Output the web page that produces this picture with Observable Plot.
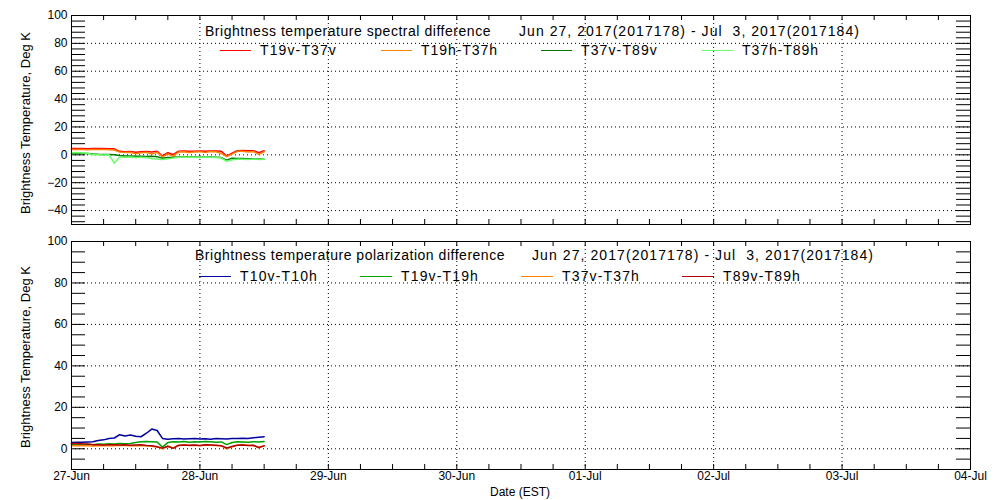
<!DOCTYPE html>
<html><head><meta charset="utf-8">
<script src="https://cdn.jsdelivr.net/npm/d3@7"></script>
<script src="https://cdn.jsdelivr.net/npm/@observablehq/plot@0.6"></script>
<style>
body{margin:0;background:#fff;}
#wrap{position:relative;width:1000px;height:500px;overflow:hidden;font-family:"Liberation Sans",Arial,sans-serif;color:#000;}
.panel{position:absolute;left:0;}
.txt{position:absolute;white-space:pre;line-height:16px;font-size:14px;}
.sw{position:absolute;height:0;border-top:1px solid;}
.ylab{position:absolute;white-space:pre;font-size:13px;line-height:16px;transform:translate(-50%,-50%) rotate(-90deg);}
</style></head>
<body><div id="wrap"></div>
<script>
// ---------- data ----------
const hourOffsets = [0,1,2,3,4,5,6,7,8,9,10,11,12,13,14,15,16,17,18,19,20,21,22,23,24,25,26,27,28,29,30,31,32,33,34,35,36];
const dayLabels = ["27-Jun","28-Jun","29-Jun","30-Jun","01-Jul","02-Jul","03-Jul","04-Jul"];

const spectralNames = ["T19v-T37v","T19h-T37h","T37v-T89v","T37h-T89h"];
const spectralColors = ["#ff0000","#ff7f00","#007a00","#66ff66"];
const T19v_T37v = [4.5,4.6,4.5,4.4,4.5,4.6,4.5,4.4,4.3,2.5,2.3,2.4,1.8,2.2,2.4,2.1,2.5,-0.8,1.5,0.2,2.6,2.7,2.5,2.6,2.7,2.6,2.8,2.7,2.6,-0.9,1.2,3.0,3.1,2.9,3.0,1.5,3.0];
const T19h_T37h = [3.8,3.9,3.8,3.7,3.8,3.9,3.8,3.7,3.5,2.0,1.6,1.8,0.8,1.5,1.9,0.5,1.8,-1.5,0.6,-1.0,2.0,2.2,1.6,2.1,2.3,1.7,2.4,2.2,1.0,-1.3,0.5,2.5,2.6,2.0,2.4,0.3,2.2];
const T37v_T89v = [1.0,1.1,0.9,1.0,0.6,0.4,0.3,0.2,0.1,-0.4,-0.8,-0.9,-1.0,-1.1,-1.2,-1.0,-1.3,-2.4,-2.0,-1.8,-1.5,-1.4,-1.5,-1.6,-1.7,-1.5,-1.6,-1.8,-2.0,-3.8,-2.5,-2.6,-2.7,-2.8,-2.9,-3.0,-3.1];
const T37h_T89h = [1.5,1.6,1.4,1.2,0.0,0.1,-0.1,0.0,-6.0,-1.5,-1.8,-1.6,-1.9,-1.7,-2.0,-2.8,-3.0,-3.4,-2.9,-2.2,-1.7,-1.6,-1.8,-1.7,-1.9,-1.6,-1.8,-2.0,-2.3,-4.6,-3.5,-3.2,-3.1,-3.3,-3.0,-3.4,-3.2];

const polarNames = ["T10v-T10h","T19v-T19h","T37v-T37h","T89v-T89h"];
const polarColors = ["#0000a0","#00a000","#ff8000","#b00000"];
const T10v_T10h = [3.0,3.2,3.1,3.3,3.4,4.0,4.3,5.0,5.2,6.8,6.2,6.6,6.0,5.8,7.5,9.5,8.8,5.0,4.6,4.8,4.9,4.7,4.8,4.9,4.7,4.8,4.6,4.9,4.8,4.7,5.0,4.9,5.1,5.0,5.3,5.6,5.8];
const T19v_T19h = [2.2,2.3,2.1,2.2,2.0,2.3,2.2,2.4,2.3,2.5,2.4,2.6,3.0,3.4,3.5,3.4,3.3,0.8,3.0,3.4,3.3,3.5,3.2,3.4,3.3,3.5,3.4,3.2,3.3,2.0,3.0,3.4,3.3,3.2,3.4,3.3,3.5];
const T37v_T37h = [1.5,1.6,1.4,1.5,1.3,1.5,1.6,1.4,1.5,1.7,1.6,1.4,1.5,1.6,1.4,1.2,0.8,0.0,1.2,0.4,1.7,1.8,1.6,1.7,1.5,1.8,1.7,1.6,1.4,0.0,1.0,1.8,1.9,1.7,1.6,0.5,1.5];
const T89v_T89h = [2.5,2.6,2.4,2.3,2.0,1.9,1.8,2.0,1.9,1.8,1.9,1.7,1.8,1.9,1.6,1.5,1.0,0.3,1.2,0.2,1.6,1.8,1.7,1.8,1.6,1.9,1.8,1.7,1.5,0.4,1.1,1.7,1.8,1.6,1.7,0.6,1.4];

const spectralSeries = [T19v_T37v, T19h_T37h, T37v_T89v, T37h_T89h];
const polarSeries = [T10v_T10h, T19v_T19h, T37v_T37h, T89v_T89h];

// ---------- layout ----------
const W = 1000, ML = 71, MR = 30;
const t0 = new Date(Date.UTC(2017,5,27));
const t1 = new Date(Date.UTC(2017,6,4));
const days = d3.utcDay.range(t0, d3.utcDay.offset(t1,1));
const sixHours = d3.utcHour.every(6).range(t0, d3.utcHour.offset(t1,1));
const toRows = vals => vals.map((v,i) => ({t: new Date(t0.getTime() + hourOffsets[i]*3600e3), v}));
const font = '"Liberation Sans", Arial, sans-serif';

function panel({height, mt, mb, yDomain, yMinorStep, series, colors, showX}) {
  const pw = W - ML - MR, ph = height - mt - mb;
  const majors = d3.range(Math.ceil(yDomain[0]/20)*20, yDomain[1]+1, 20);
  const minors = d3.range(Math.ceil(yDomain[0]/yMinorStep)*yMinorStep, yDomain[1]+1, yMinorStep);
  const grid = majors.filter(d => d > yDomain[0] && d < yDomain[1]);
  const marks = [
    Plot.ruleY(grid, {stroke:"#000", strokeDasharray:"1,3"}),
    Plot.ruleX(days.slice(1,-1), {stroke:"#000", strokeDasharray:"1,3"}),
    Plot.ruleY(minors, {stroke:"#000", insetRight: pw-14}),
    Plot.ruleY(minors, {stroke:"#000", insetLeft: pw-14}),
    Plot.ruleX(sixHours, {stroke:"#000", insetTop: ph-5}),
    Plot.ruleX(sixHours, {stroke:"#000", insetBottom: ph-5}),
    ...series.map((s,i) => Plot.lineY(toRows(s), {x:"t", y:"v", stroke: colors[i], strokeWidth:1.5})),
    Plot.frame({stroke:"#000"}),
    Plot.axisY(majors, {tickSize:0, tickPadding:4, fontSize:12, label:null})
  ];
  if (showX) marks.push(Plot.axisX(days, {tickSize:0, tickPadding:2, fontSize:12, label:null, tickFormat:(d,i)=>dayLabels[i]}));
  return Plot.plot({
    width: W, height, marginTop: mt, marginBottom: mb, marginLeft: ML, marginRight: MR,
    style: {fontFamily: font, color:"#000", background:"#fff"},
    x: {type:"utc", domain:[t0,t1], axis: showX ? undefined : null},
    y: {domain: yDomain},
    marks
  });
}

const wrap = document.getElementById("wrap");
function place(el, top){ const d=document.createElement("div"); d.className="panel"; d.style.top=top+"px"; d.appendChild(el); wrap.appendChild(d); }
place(panel({height:232, mt:15, mb:8, yDomain:[-50,100], yMinorStep:4, series:spectralSeries, colors:spectralColors, showX:false}), 0);
place(panel({height:268, mt:9, mb:31, yDomain:[-10,100], yMinorStep:5, series:polarSeries, colors:polarColors, showX:true}), 232);

function text(str, left, cy, width, cls="txt", size) {
  const s = document.createElement("span");
  s.className = cls; s.textContent = str;
  if (size) s.style.fontSize = size+"px";
  wrap.appendChild(s);
  if (cls === "txt") { s.style.left = left+"px"; s.style.top = (cy-8)+"px"; }
  else { s.style.left = left+"px"; s.style.top = cy+"px"; }
  if (width) {
    const w = s.getBoundingClientRect()[cls==="txt" ? "width" : "height"];
    s.style.letterSpacing = ((width - w)/str.length)+"px";
  }
  return s;
}
function swatch(x1, x2, cy, color){
  const d=document.createElement("div"); d.className="sw";
  d.style.left=x1+"px"; d.style.width=(x2-x1)+"px"; d.style.top=cy+"px"; d.style.borderColor=color;
  wrap.appendChild(d);
}

// titles
text("Brightness temperature spectral difference", 205, 31, 286);
text("Jun 27, 2017(2017178) - Jul  3, 2017(2017184)", 519, 31, 341);
text("Brightness temperature polarization difference", 195, 255, 310);
text("Jun 27, 2017(2017178) - Jul  3, 2017(2017184)", 532, 255, 342);

// legends
const topSw = [220, 381, 541, 702], botSw = [199, 360, 521, 682];
spectralNames.forEach((n,i)=>{ swatch(topSw[i], topSw[i]+31, 50, spectralColors[i]); text(n, topSw[i]+40, 50, 77); });
polarNames.forEach((n,i)=>{ swatch(botSw[i], botSw[i]+32, 276, polarColors[i]); text(n, botSw[i]+41, 276, 78); });

// axis labels
text("Brightness Temperature, Deg K", 26, 123, 182, "ylab");
text("Brightness Temperature, Deg K", 26, 357, 182, "ylab");
const xl = text("Date (EST)", 0, 492, null, "txt", 12);
xl.style.left = (520 - xl.getBoundingClientRect().width/2) + "px";
</script>
</body></html>
